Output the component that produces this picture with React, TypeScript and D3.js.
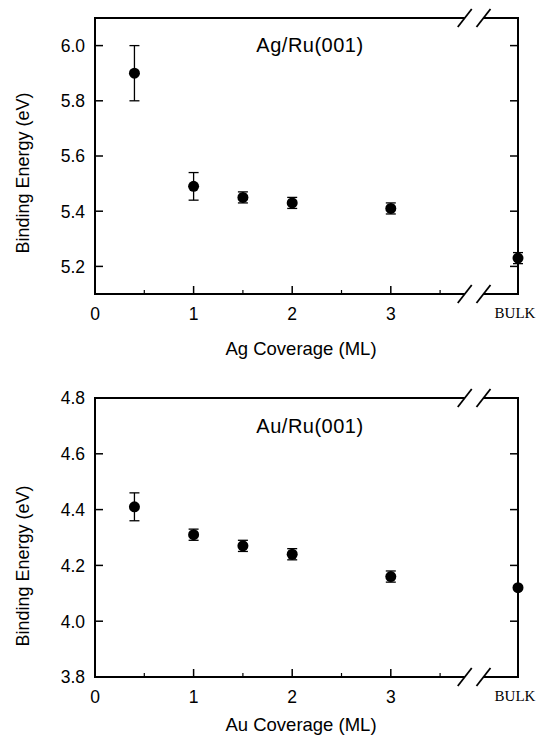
import React, { useEffect, useRef } from 'react';
import * as d3 from 'd3';

// x positions of the coverage points (ML); BULK sits past the axis break
const BULK_POS = 4.29;
const coverage = [0.4, 1.0, 1.5, 2.0, 3.0, BULK_POS];

const agEnergy = [5.90, 5.49, 5.45, 5.43, 5.41, 5.23];
const agError = [0.10, 0.05, 0.02, 0.02, 0.02, 0.02];

const auEnergy = [4.41, 4.31, 4.27, 4.24, 4.16, 4.12];
const auError = [0.05, 0.02, 0.02, 0.02, 0.02, 0];

const xMajorTicks = [0, 1, 2, 3];
const xMinorTicks = [0.5, 1.5, 2.5, 3.5];
const breakAt = [3.75, 3.94];

const agTicks = [5.2, 5.4, 5.6, 5.8, 6.0];
const auTicks = [3.8, 4.0, 4.2, 4.4, 4.6, 4.8];

const SANS = 'Arial, "Liberation Sans", Helvetica, sans-serif';
const SERIF = '"Times New Roman", "Liberation Serif", serif';

function drawPanel(svg, opts) {
  const { top, bottom, left, right, yDomain, yTicks, energy, errors, title, titleY, xLabel, xLabelY, yLabelY } = opts;

  const x = d3.scaleLinear().domain([0, BULK_POS]).range([left, right]);
  const y = d3.scaleLinear().domain(yDomain).range([bottom, top]);

  const g = svg.append('g');
  const b1 = x(breakAt[0]);
  const b2 = x(breakAt[1]);

  // frame, broken on top and bottom
  const frame = g.append('g').attr('stroke', '#000').attr('stroke-width', 2).attr('fill', 'none');
  frame.append('line').attr('x1', left).attr('x2', left).attr('y1', top - 1).attr('y2', bottom + 1);
  frame.append('line').attr('x1', right).attr('x2', right).attr('y1', top - 1).attr('y2', bottom + 1);
  [top, bottom].forEach(yy => {
    frame.append('line').attr('x1', left).attr('x2', b1).attr('y1', yy).attr('y2', yy);
    frame.append('line').attr('x1', b2).attr('x2', right).attr('y1', yy).attr('y2', yy);
    breakAt.forEach(bx => {
      frame.append('line')
        .attr('x1', x(bx) - 7).attr('y1', yy + 9)
        .attr('x2', x(bx) + 7).attr('y2', yy - 9)
        .attr('stroke-width', 1.8);
    });
  });

  // y ticks, inward on both sides
  const ticks = g.append('g').attr('stroke', '#000').attr('stroke-width', 1.5);
  yTicks.forEach(t => {
    ticks.append('line').attr('x1', left).attr('x2', left + 8).attr('y1', y(t)).attr('y2', y(t));
    ticks.append('line').attr('x1', right).attr('x2', right - 8).attr('y1', y(t)).attr('y2', y(t));
  });
  xMajorTicks.forEach(t => {
    ticks.append('line').attr('x1', x(t)).attr('x2', x(t)).attr('y1', bottom).attr('y2', bottom - 8);
  });
  xMinorTicks.forEach(t => {
    ticks.append('line').attr('x1', x(t)).attr('x2', x(t)).attr('y1', bottom).attr('y2', bottom - 4)
      .attr('stroke-width', 1.2);
  });

  // tick labels
  g.append('g').selectAll('text')
    .data(yTicks)
    .enter()
    .append('text')
    .attr('x', left - 10)
    .attr('y', d => y(d))
    .attr('dy', '0.36em')
    .attr('text-anchor', 'end')
    .attr('font-family', SANS)
    .attr('font-size', 17.5)
    .text(d => d3.format('.1f')(d));

  g.append('g').selectAll('text')
    .data(xMajorTicks)
    .enter()
    .append('text')
    .attr('x', d => x(d))
    .attr('y', bottom + 26)
    .attr('text-anchor', 'middle')
    .attr('font-family', SANS)
    .attr('font-size', 17.5)
    .text(d => d);

  g.append('text')
    .attr('x', x(BULK_POS) - 3)
    .attr('y', bottom + 24)
    .attr('text-anchor', 'middle')
    .attr('font-family', SERIF)
    .attr('font-size', 15)
    .text('BULK');

  // labels
  g.append('text')
    .attr('x', 310)
    .attr('y', titleY)
    .attr('text-anchor', 'middle')
    .attr('font-family', SANS)
    .attr('font-size', 20)
    .attr('letter-spacing', 0.5)
    .text(title);

  g.append('text')
    .attr('x', 301)
    .attr('y', xLabelY)
    .attr('text-anchor', 'middle')
    .attr('font-family', SANS)
    .attr('font-size', 18.5)
    .text(xLabel);

  g.append('text')
    .attr('transform', `translate(23, ${yLabelY}) rotate(-90)`)
    .attr('text-anchor', 'middle')
    .attr('dy', '0.35em')
    .attr('font-family', SANS)
    .attr('font-size', 18)
    .text('Binding Energy (eV)');

  // error bars
  const pts = coverage.map((c, i) => ({ c, e: energy[i], err: errors[i] }));
  const bars = g.append('g').attr('stroke', '#000').attr('stroke-width', 1.3);
  pts.filter(p => p.err > 0).forEach(p => {
    const cx = x(p.c);
    bars.append('line').attr('x1', cx).attr('x2', cx).attr('y1', y(p.e - p.err)).attr('y2', y(p.e + p.err));
    [p.e - p.err, p.e + p.err].forEach(v => {
      bars.append('line').attr('x1', cx - 5).attr('x2', cx + 5).attr('y1', y(v)).attr('y2', y(v));
    });
  });

  g.append('g').selectAll('circle')
    .data(pts)
    .enter()
    .append('circle')
    .attr('cx', d => x(d.c))
    .attr('cy', d => y(d.e))
    .attr('r', 5.5)
    .attr('fill', '#000');
}

export default function App() {
  const svgRef = useRef(null);

  useEffect(() => {
    const svg = d3.select(svgRef.current);
    svg.selectAll('*').remove();

    drawPanel(svg, {
      top: 18, bottom: 294, left: 95, right: 518,
      yDomain: [5.1, 6.1], yTicks: agTicks,
      energy: agEnergy, errors: agError,
      title: 'Ag/Ru(001)', titleY: 52,
      xLabel: 'Ag Coverage (ML)', xLabelY: 355, yLabelY: 173,
    });

    drawPanel(svg, {
      top: 398, bottom: 677, left: 95, right: 518,
      yDomain: [3.8, 4.8], yTicks: auTicks,
      energy: auEnergy, errors: auError,
      title: 'Au/Ru(001)', titleY: 433,
      xLabel: 'Au Coverage (ML)', xLabelY: 731, yLabelY: 566,
    });
  }, []);

  return (
    <svg
      ref={svgRef}
      width={537}
      height={738}
      style={{ position: 'absolute', left: 0, top: 0, background: '#fff', display: 'block' }}
    />
  );
}
